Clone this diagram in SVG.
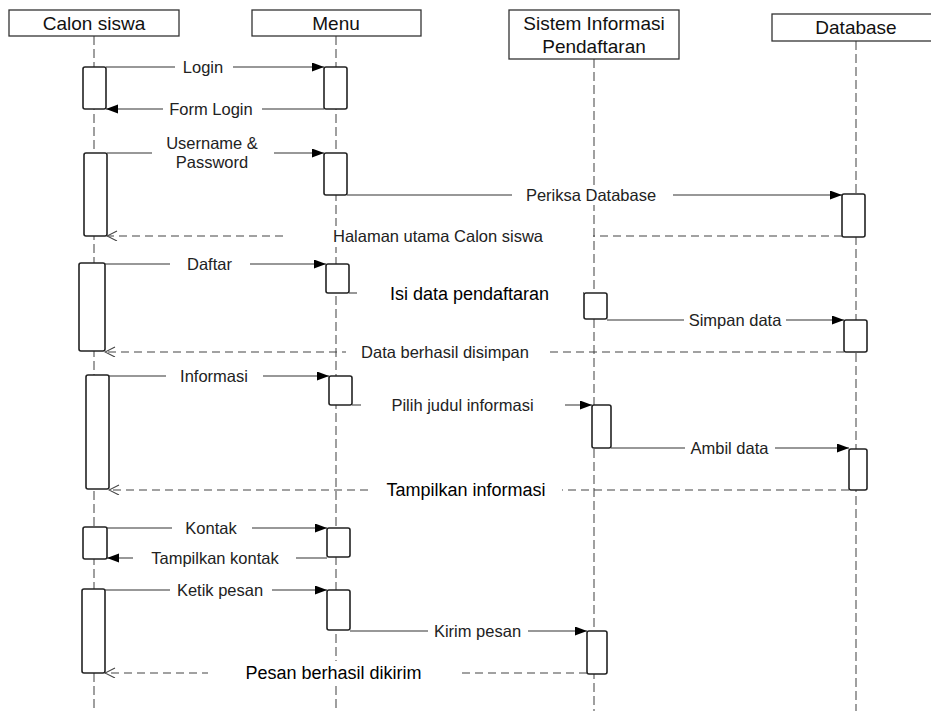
<svg xmlns="http://www.w3.org/2000/svg" width="931" height="711" viewBox="0 0 931 711">
  <defs>
    <style>
      .head { fill: #fff; stroke: #333; stroke-width: 1.3; }
      .head-text { font-family: "Liberation Sans", Arial, sans-serif; font-size: 19px; fill: #111; text-anchor: middle; }
      .life { stroke: #777; stroke-width: 1.4; stroke-dasharray: 9 4; fill: none; }
      .act { fill: #fff; stroke: #222; stroke-width: 1.6; }
      .msg { stroke: #333; stroke-width: 1.2; fill: none; marker-end: url(#solidHead); }
      .ret { stroke: #444; stroke-width: 1.2; fill: none; stroke-dasharray: 8 5; marker-end: url(#openHead); }
      .lbl-bg { fill: #fff; stroke: none; }
      .lbl { font-family: "Liberation Sans", Arial, sans-serif; font-size: 16.5px; fill: #222; text-anchor: middle; }
      .lbl-big { font-family: "Liberation Sans", Arial, sans-serif; font-size: 18px; fill: #000; text-anchor: middle; }
    </style>
    <marker id="solidHead" markerUnits="userSpaceOnUse" markerWidth="13" markerHeight="10" refX="12" refY="4.5" orient="auto">
      <path d="M0,0 L12,4.5 L0,9 z" fill="#000"/>
    </marker>
    <marker id="openHead" markerUnits="userSpaceOnUse" markerWidth="12" markerHeight="12" refX="11" refY="5" orient="auto">
      <path d="M1,0 L11,5 L1,10" fill="none" stroke="#444" stroke-width="1.1"/>
    </marker>
  </defs>

  <rect width="931" height="711" fill="#fff"/>

  <!-- Lifeline: Calon siswa -->
  <g id="calon-siswa">
    <line class="life" x1="94" y1="36" x2="94" y2="711"/>
    <rect class="head" x="9" y="10" width="170" height="26"/>
    <text class="head-text" x="94" y="30">Calon siswa</text>
    <rect class="act" x="83" y="67" width="23" height="42" rx="2"/>
    <rect class="act" x="84" y="153" width="23" height="83" rx="2"/>
    <rect class="act" x="79" y="263" width="26" height="88" rx="2"/>
    <rect class="act" x="86" y="375" width="23" height="114" rx="2"/>
    <rect class="act" x="83" y="527" width="24" height="32" rx="2"/>
    <rect class="act" x="82" y="589" width="23" height="84" rx="2"/>
  </g>

  <!-- Lifeline: Menu -->
  <g id="menu">
    <line class="life" x1="336" y1="36" x2="336" y2="711"/>
    <rect class="head" x="252" y="10" width="169" height="26"/>
    <text class="head-text" x="336" y="30">Menu</text>
    <rect class="act" x="324" y="67" width="23" height="42" rx="2"/>
    <rect class="act" x="324" y="153" width="23" height="42" rx="2"/>
    <rect class="act" x="326" y="264" width="23" height="29" rx="2"/>
    <rect class="act" x="329" y="376" width="23" height="29" rx="2"/>
    <rect class="act" x="327" y="528" width="23" height="29" rx="2"/>
    <rect class="act" x="327" y="590" width="23" height="40" rx="2"/>
  </g>

  <!-- Lifeline: Sistem Informasi Pendaftaran -->
  <g id="sistem-informasi">
    <line class="life" x1="594" y1="59" x2="594" y2="711"/>
    <rect class="head" x="509" y="10" width="170" height="49"/>
    <text class="head-text" x="594" y="30">Sistem Informasi</text>
    <text class="head-text" x="594" y="53">Pendaftaran</text>
    <rect class="act" x="584" y="293" width="23" height="26" rx="2"/>
    <rect class="act" x="592" y="405" width="19" height="43" rx="2"/>
    <rect class="act" x="587" y="631" width="20" height="43" rx="2"/>
  </g>

  <!-- Lifeline: Database -->
  <g id="database">
    <line class="life" x1="856" y1="41" x2="856" y2="711"/>
    <rect class="head" x="772" y="14" width="170" height="27"/>
    <text class="head-text" x="856" y="34">Database</text>
    <rect class="act" x="842" y="194" width="23" height="43" rx="2"/>
    <rect class="act" x="844" y="320" width="23" height="32" rx="2"/>
    <rect class="act" x="849" y="449" width="18" height="41" rx="2"/>
  </g>

  <!-- Messages -->
  <g id="connectors">
    <g id="m-login">
      <line class="msg" x1="106" y1="67" x2="324" y2="67"/>
      <rect class="lbl-bg" x="175" y="58" width="58" height="19"/>
      <text class="lbl" x="203" y="73">Login</text>
    </g>
    <g id="m-form-login">
      <line class="msg" x1="324" y1="109" x2="106" y2="109"/>
      <rect class="lbl-bg" x="163" y="100" width="99" height="19"/>
      <text class="lbl" x="211" y="115">Form Login</text>
    </g>
    <g id="m-username">
      <line class="msg" x1="107" y1="153" x2="324" y2="153"/>
      <rect class="lbl-bg" x="152" y="134" width="122" height="39"/>
      <text class="lbl" x="212" y="149">Username &amp;</text>
      <text class="lbl" x="212" y="168">Password</text>
    </g>
    <g id="m-periksa">
      <line class="msg" x1="347" y1="195" x2="842" y2="195"/>
      <rect class="lbl-bg" x="512" y="186" width="161" height="19"/>
      <text class="lbl" x="591" y="201">Periksa Database</text>
    </g>
    <g id="m-halaman">
      <line class="ret" x1="842" y1="236" x2="107" y2="236"/>
      <rect class="lbl-bg" x="288" y="226" width="305" height="21"/>
      <text class="lbl" x="438" y="242">Halaman utama Calon siswa</text>
    </g>
    <g id="m-daftar">
      <line class="msg" x1="105" y1="264" x2="326" y2="264"/>
      <rect class="lbl-bg" x="170" y="255" width="80" height="19"/>
      <text class="lbl" x="209.5" y="270">Daftar</text>
    </g>
    <g id="m-isi-data">
      <line class="msg" x1="349" y1="293" x2="584" y2="293"/>
      <rect class="lbl-bg" x="357" y="281" width="226" height="24"/>
      <text class="lbl-big" x="469.5" y="299.5">Isi data pendaftaran</text>
    </g>
    <g id="m-simpan">
      <line class="msg" x1="607" y1="320" x2="844" y2="320"/>
      <rect class="lbl-bg" x="684" y="311" width="102" height="19"/>
      <text class="lbl" x="735" y="326">Simpan data</text>
    </g>
    <g id="m-berhasil-disimpan">
      <line class="ret" x1="844" y1="352" x2="105" y2="352"/>
      <rect class="lbl-bg" x="346" y="342" width="199" height="20"/>
      <text class="lbl" x="445" y="357.5">Data berhasil disimpan</text>
    </g>
    <g id="m-informasi">
      <line class="msg" x1="109" y1="376" x2="329" y2="376"/>
      <rect class="lbl-bg" x="166" y="367" width="97" height="19"/>
      <text class="lbl" x="214" y="382">Informasi</text>
    </g>
    <g id="m-pilih">
      <line class="msg" x1="352" y1="405" x2="592" y2="405"/>
      <rect class="lbl-bg" x="361" y="396" width="204" height="19"/>
      <text class="lbl" x="462.5" y="411">Pilih judul informasi</text>
    </g>
    <g id="m-ambil">
      <line class="msg" x1="611" y1="448" x2="849" y2="448"/>
      <rect class="lbl-bg" x="685" y="439" width="90" height="19"/>
      <text class="lbl" x="729.5" y="454">Ambil data</text>
    </g>
    <g id="m-tampilkan-informasi">
      <line class="ret" x1="849" y1="490" x2="109" y2="490"/>
      <rect class="lbl-bg" x="370" y="478" width="192" height="23"/>
      <text class="lbl-big" x="466" y="496">Tampilkan informasi</text>
    </g>
    <g id="m-kontak">
      <line class="msg" x1="107" y1="528" x2="327" y2="528"/>
      <rect class="lbl-bg" x="172" y="519" width="80" height="19"/>
      <text class="lbl" x="211" y="534">Kontak</text>
    </g>
    <g id="m-tampilkan-kontak">
      <line class="msg" x1="327" y1="558" x2="107" y2="558"/>
      <rect class="lbl-bg" x="133" y="549" width="163" height="19"/>
      <text class="lbl" x="215" y="564">Tampilkan kontak</text>
    </g>
    <g id="m-ketik">
      <line class="msg" x1="105" y1="590" x2="327" y2="590"/>
      <rect class="lbl-bg" x="170" y="581" width="102" height="19"/>
      <text class="lbl" x="220" y="596">Ketik pesan</text>
    </g>
    <g id="m-kirim">
      <line class="msg" x1="350" y1="631" x2="587" y2="631"/>
      <rect class="lbl-bg" x="428" y="622" width="100" height="19"/>
      <text class="lbl" x="477.5" y="637">Kirim pesan</text>
    </g>
    <g id="m-pesan-berhasil">
      <line class="ret" x1="587" y1="673" x2="105" y2="673"/>
      <rect class="lbl-bg" x="208" y="661" width="252" height="25"/>
      <text class="lbl-big" x="333.5" y="679">Pesan berhasil dikirim</text>
    </g>
  </g>
</svg>
